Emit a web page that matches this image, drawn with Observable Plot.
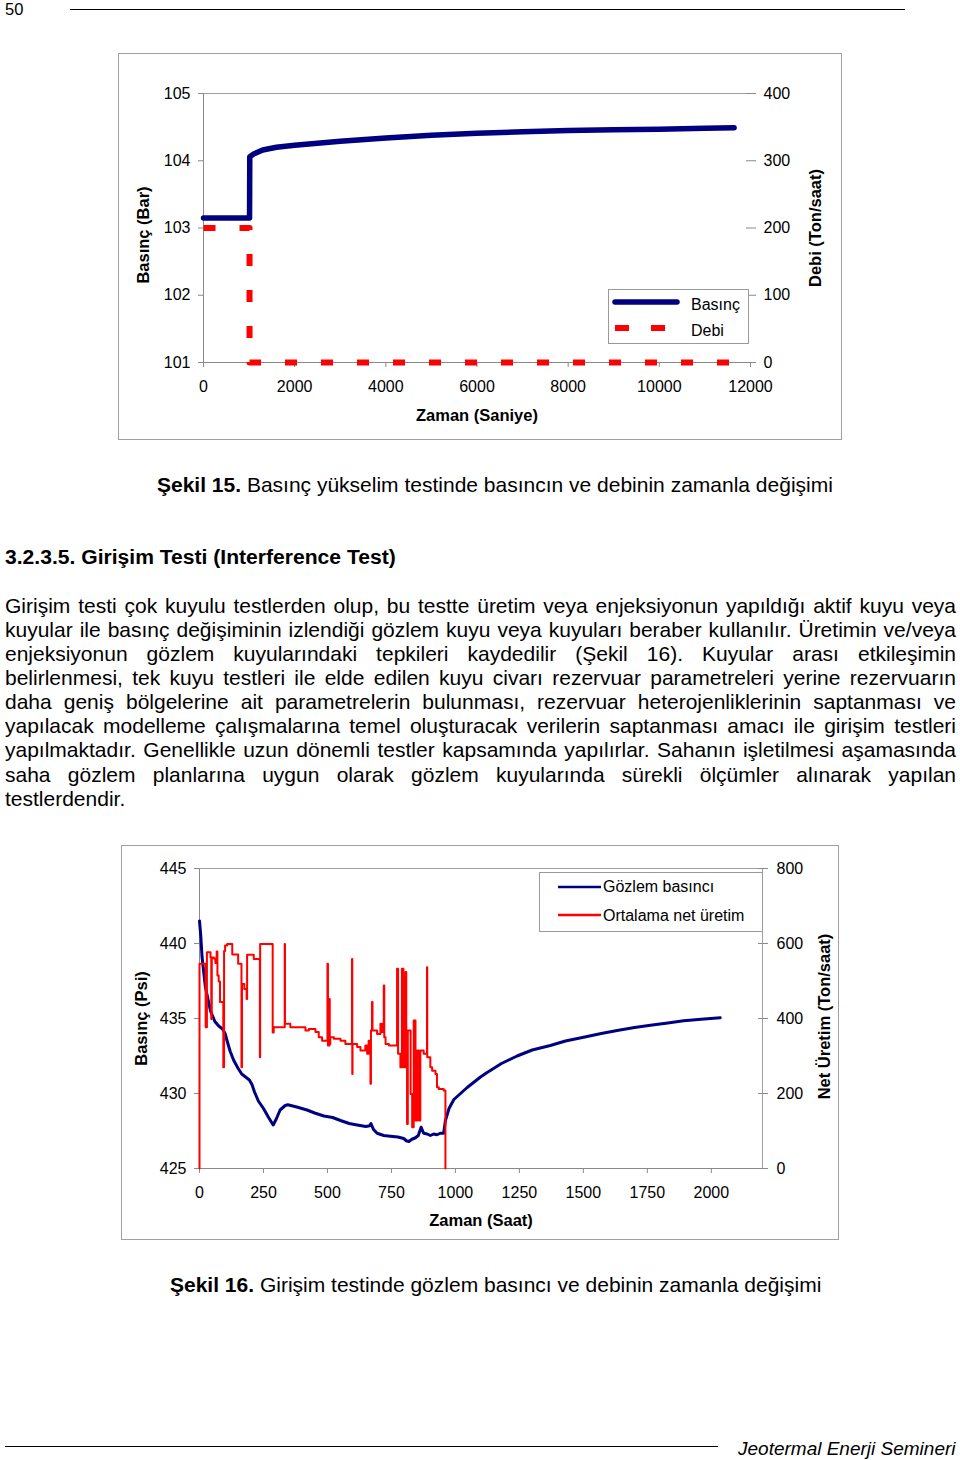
<!DOCTYPE html>
<html>
<head>
<meta charset="utf-8">
<script src="https://cdn.jsdelivr.net/npm/d3@7"></script>
<script src="https://cdn.jsdelivr.net/npm/@observablehq/plot@0.6"></script>
<style>
  html, body { margin: 0; padding: 0; background: white; }
  body { width: 960px; height: 1460px; position: relative; overflow: hidden;
         font-family: 'Liberation Sans', Arial, Helvetica, sans-serif; color: #000; }
  .abs { position: absolute; }
  .txt { position: absolute; font-size: 21px; line-height: 24px; white-space: nowrap; }
  .jl { position: absolute; left: 5px; width: 951px; font-size: 21px; line-height: 24px;
        text-align: justify; text-align-last: justify; white-space: nowrap; }
  .last { text-align-last: left; }
  .chart { position: absolute; }
  .legend { position: absolute; border: 1px solid #9a9a9a; background: white; box-sizing: border-box; }
  .legend .lt { position: absolute; font-size: 16px; line-height: 20px; white-space: nowrap; }
  .legend svg { position: absolute; left: 0; top: 0; overflow: visible; }
</style>
</head>
<body>
<!-- header -->
<div class="abs" style="left:5px; top:-3px; font-size:16.5px; line-height:24px;">50</div>
<div class="abs" style="left:70px; top:9px; width:835px; height:0; border-top:1.6px solid #000;"></div>

<div id="chart1" class="chart" style="left:118px; top:53px; width:724px; height:387px;"></div>
<div class="legend" style="left:608px; top:289px; width:141px; height:55px;">
  <svg width="141" height="55">
    <line x1="6" y1="12" x2="68" y2="12" stroke="#000080" stroke-width="5.5" stroke-linecap="round"></line>
    <line x1="6" y1="38" x2="56" y2="38" stroke="#ff0000" stroke-width="6" stroke-dasharray="14,22"></line>
  </svg>
  <div class="lt" style="left:82px; top:5px;">Basınç</div>
  <div class="lt" style="left:82px; top:31px;">Debi</div>
</div>

<div class="txt" style="left:157px; top:473px;"><b>Şekil 15.</b> Basınç yükselim testinde basıncın ve debinin zamanla değişimi</div>

<div class="txt" style="left:5px; top:545px; font-weight:bold; font-size:21.1px;">3.2.3.5. Girişim Testi (Interference Test)</div>

<div id="para"></div>

<div id="chart2" class="chart" style="left:121px; top:845px; width:718px; height:395px;"></div>
<div class="legend" style="left:539px; top:872px; width:224px; height:60px;">
  <svg width="224" height="60">
    <line x1="18" y1="14" x2="61" y2="14" stroke="#000080" stroke-width="2.5"></line>
    <line x1="18" y1="42" x2="61" y2="42" stroke="#ff0000" stroke-width="2.5"></line>
  </svg>
  <div class="lt" style="left:63px; top:4px;">Gözlem basıncı</div>
  <div class="lt" style="left:63px; top:33px;">Ortalama net üretim</div>
</div>

<div class="txt" style="left:170px; top:1273px;"><b>Şekil 16.</b> Girişim testinde gözlem basıncı ve debinin zamanla değişimi</div>

<!-- footer -->
<div class="abs" style="left:5px; top:1446px; width:713px; height:0; border-top:1.6px solid #000;"></div>
<div class="abs" style="left:738px; top:1437px; font-size:19px; line-height:24px; font-style:italic; white-space:nowrap;">Jeotermal Enerji Semineri</div>

<script>
// ---------------- Paragraph lines ----------------
const paraLines = [
  "Girişim testi çok kuyulu testlerden olup, bu testte üretim veya enjeksiyonun yapıldığı aktif kuyu veya",
  "kuyular ile basınç değişiminin izlendiği gözlem kuyu veya kuyuları beraber kullanılır. Üretimin ve/veya",
  "enjeksiyonun gözlem kuyularındaki tepkileri kaydedilir (Şekil 16). Kuyular arası etkileşimin",
  "belirlenmesi, tek kuyu testleri ile elde edilen kuyu civarı rezervuar parametreleri yerine rezervuarın",
  "daha geniş bölgelerine ait parametrelerin bulunması, rezervuar heterojenliklerinin saptanması ve",
  "yapılacak modelleme çalışmalarına temel oluşturacak verilerin saptanması amacı ile girişim testleri",
  "yapılmaktadır. Genellikle uzun dönemli testler kapsamında yapılırlar. Sahanın işletilmesi aşamasında",
  "saha gözlem planlarına uygun olarak gözlem kuyularında sürekli ölçümler alınarak yapılan",
  "testlerdendir."
];
const paraCenters = [607, 631, 655, 679, 703, 727, 751, 776, 800];

// ---------------- Chart 1 data (Şekil 15) ----------------
const c1Time = [0, 1010, 1015, 1100, 1300, 1600, 2000, 3000, 4000, 5000, 6000, 7000, 8000, 9000, 10000, 11000, 11640];
const c1Basinc = [103.15, 103.15, 104.06, 104.10, 104.16, 104.20, 104.23, 104.29, 104.34, 104.38, 104.41, 104.43, 104.45, 104.46, 104.47, 104.485, 104.49];
const c1DebiTime = [0, 1010, 1010, 11640];
const c1Debi = [200, 200, 0, 0];
const c1XTicks = [0, 2000, 4000, 6000, 8000, 10000, 12000];
const c1LeftTicks = [101, 102, 103, 104, 105];
const c1RightTicks = [0, 100, 200, 300, 400];

// ---------------- Chart 2 data (Şekil 16) ----------------
const c2PTime = [0, 5, 10, 23, 43, 60, 75, 90, 100, 108, 120, 134, 150, 165, 180, 195, 205, 215, 230, 250, 270, 288,
  300, 315, 335, 345, 380, 420, 450, 486, 520, 551, 585, 616, 650, 665, 670, 680, 694, 720, 746, 775, 798, 808, 818,
  830, 844, 855, 866, 876, 890, 902, 915, 928, 941, 954, 961, 975, 994, 1020, 1046, 1098, 1124, 1180, 1241, 1300,
  1371, 1430, 1501, 1570, 1632, 1700, 1762, 1830, 1892, 1960, 2035];
const c2Basinc = [441.5, 440.5, 439.1, 437.1, 435.5, 434.8, 434.5, 434.3, 434.0, 433.5, 432.8, 432.2, 431.7, 431.3, 431.1, 430.9, 430.6, 430.1, 429.5, 429.0, 428.4, 427.9,
  428.3, 428.9, 429.2, 429.25, 429.1, 428.9, 428.7, 428.5, 428.4, 428.2, 428.0, 427.9, 427.8, 427.85, 428.0, 427.6, 427.35, 427.2, 427.15, 427.1, 427.0, 426.85, 426.8,
  426.95, 427.05, 427.2, 427.75, 427.35, 427.3, 427.2, 427.3, 427.25, 427.35, 427.35, 428.2, 429.0, 429.6, 430.0, 430.4, 431.1, 431.4, 432.0, 432.5, 432.9,
  433.2, 433.5, 433.75, 434.0, 434.2, 434.4, 434.55, 434.7, 434.85, 434.95, 435.05];
const c2QTime = [0, 0, 24, 29, 43, 46, 48, 56, 62, 67, 70, 75, 80, 93, 96, 100, 108, 128, 151, 164, 166, 175, 184, 186, 212, 236, 237,
  286, 290, 333, 334, 355, 414, 427, 453, 466, 479, 500, 502, 508, 509, 511, 525, 551, 570, 596, 597, 598, 616, 629, 648, 655,
  661, 668, 670, 674, 676, 694, 707, 713, 720, 722, 727, 740, 772, 776, 785, 791, 797, 798, 805, 808, 811, 814, 825, 831, 837,
  844, 850, 857, 863, 876, 889, 890, 902, 909, 922, 928, 935, 954, 961];
const c2Uretim = [0, 546, 377, 577, 563, 399, 563, 560, 548, 579, 515, 499, 444, 270, 580, 595, 599, 571, 546, 270, 492, 479, 452, 570, 559, 297, 599,
  363, 377, 599, 386, 377, 368, 372, 364, 350, 341, 546, 328, 452, 332, 350, 346, 341, 332, 559, 252, 332, 324, 315, 328, 306,
  341, 226, 368, 444, 368, 359, 386, 364, 488, 350, 332, 328, 533, 306, 270, 533, 510, 270, 524, 297, 119, 368, 199, 110, 395,
  128, 315, 128, 315, 306, 537, 297, 270, 261, 252, 217, 212, 208, 0];
const c2XTicks = [0, 250, 500, 750, 1000, 1250, 1500, 1750, 2000];
const c2LeftTicks = [425, 430, 435, 440, 445];
const c2RightTicks = [0, 200, 400, 600, 800];

// ---------------- Build paragraph ----------------
const para = document.getElementById("para");
paraLines.forEach((line, i) => {
  const d = document.createElement("div");
  d.className = "jl" + (i === paraLines.length - 1 ? " last" : "");
  d.style.top = (paraCenters[i] - 13) + "px";
  d.textContent = line;
  para.appendChild(d);
});

const FONT = "'Liberation Sans', Arial, Helvetica, sans-serif";
const AX = "#8a8a8a";
const titleOpts = {text: d => d, fontWeight: "bold", fontSize: 16.5, textAnchor: "middle", lineAnchor: "middle"};

// ---------------- Chart 1 ----------------
const debiToP = v => 101 + v / 100;
const c1Line = c1Time.map((t, i) => ({t, v: c1Basinc[i]}));
const c1Dash = c1DebiTime.map((t, i) => ({t, v: debiToP(c1Debi[i])}));

const chart1 = Plot.plot({
  width: 724, height: 387,
  marginLeft: 85, marginRight: 92, marginTop: 40, marginBottom: 78,
  style: {fontFamily: FONT, fontSize: "16px", color: "black", background: "white", overflow: "visible"},
  x: {domain: [0, 12000]},
  y: {domain: [101, 105]},
  marks: [
    Plot.ruleY([105], {stroke: "#a0a0a0"}),
    Plot.axisY({anchor: "left", ticks: c1LeftTicks, tickSize: 5, tickPadding: 8, stroke: AX, label: null, fontSize: 16, tickFormat: d => String(d)}),
    Plot.axisY({anchor: "right", ticks: c1RightTicks.map(debiToP), tickSize: 10, dx: -5, tickPadding: 8, stroke: AX, label: null, fontSize: 16,
      tickFormat: d => String(c1RightTicks[c1RightTicks.map(debiToP).indexOf(d)])}),
    Plot.axisX({ticks: c1XTicks, tickSize: 5, tickPadding: 13, stroke: AX, label: null, fontSize: 16, tickFormat: d => String(d)}),
    Plot.ruleY([101], {stroke: AX}),
    Plot.ruleX([0], {stroke: AX}),
    Plot.line(c1Line, {x: "t", y: "v", stroke: "#000080", strokeWidth: 5.5, strokeLinejoin: "round", strokeLinecap: "round"}),
    Plot.line(c1Dash, {x: "t", y: "v", stroke: "#ff0000", strokeWidth: 6, strokeDasharray: "12,24", strokeLinecap: "butt"}),
    Plot.text(["Basınç (Bar)"], {...titleOpts, frameAnchor: "left", dx: -60, dy: 7, rotate: -90}),
    Plot.text(["Debi (Ton/saat)"], {...titleOpts, frameAnchor: "right", dx: 65, dy: 0, rotate: -90}),
    Plot.text(["Zaman (Saniye)"], {...titleOpts, frameAnchor: "bottom", dy: 53})
  ]
});
chart1.style.outline = "1px solid #a0a0a0";
chart1.style.outlineOffset = "-1px";
document.getElementById("chart1").appendChild(chart1);

// ---------------- Chart 2 ----------------
const qToP = q => 425 + q / 40;
const c2Line = c2PTime.map((t, i) => ({t, v: c2Basinc[i]}));
const c2Step = c2QTime.map((t, i) => ({t, v: qToP(c2Uretim[i])}));

const chart2 = Plot.plot({
  width: 718, height: 395,
  marginLeft: 78, marginRight: 77, marginTop: 23, marginBottom: 72,
  style: {fontFamily: FONT, fontSize: "16px", color: "black", background: "white", overflow: "visible"},
  x: {domain: [0, 2200]},
  y: {domain: [425, 445]},
  marks: [
    Plot.ruleY([445], {stroke: "#a0a0a0"}),
    Plot.ruleX([2200], {stroke: "#a0a0a0"}),
    Plot.axisY({anchor: "left", ticks: c2LeftTicks, tickSize: 5, tickPadding: 8, stroke: AX, label: null, fontSize: 16, tickFormat: d => String(d)}),
    Plot.axisY({anchor: "right", ticks: c2RightTicks.map(qToP), tickSize: 10, dx: -5, tickPadding: 9, stroke: AX, label: null, fontSize: 16,
      tickFormat: d => String(c2RightTicks[c2RightTicks.map(qToP).indexOf(d)])}),
    Plot.axisX({ticks: c2XTicks, tickSize: 5, tickPadding: 13, stroke: AX, label: null, fontSize: 16, tickFormat: d => String(d)}),
    Plot.ruleY([425], {stroke: AX}),
    Plot.ruleX([0], {stroke: AX}),
    Plot.line(c2Line, {x: "t", y: "v", stroke: "#000080", strokeWidth: 3, strokeLinejoin: "round"}),
    Plot.line(c2Step, {x: "t", y: "v", stroke: "#ff0000", strokeWidth: 2, curve: "step-after"}),
    Plot.text(["Basınç (Psi)"], {...titleOpts, frameAnchor: "left", dx: -58, dy: 0, rotate: -90}),
    Plot.text(["Net Üretim (Ton/saat)"], {...titleOpts, frameAnchor: "right", dx: 62, dy: -2, rotate: -90}),
    Plot.text(["Zaman (Saat)"], {...titleOpts, frameAnchor: "bottom", dy: 52})
  ]
});
chart2.style.outline = "1px solid #a0a0a0";
chart2.style.outlineOffset = "-1px";
document.getElementById("chart2").appendChild(chart2);
</script>
</body>
</html>
